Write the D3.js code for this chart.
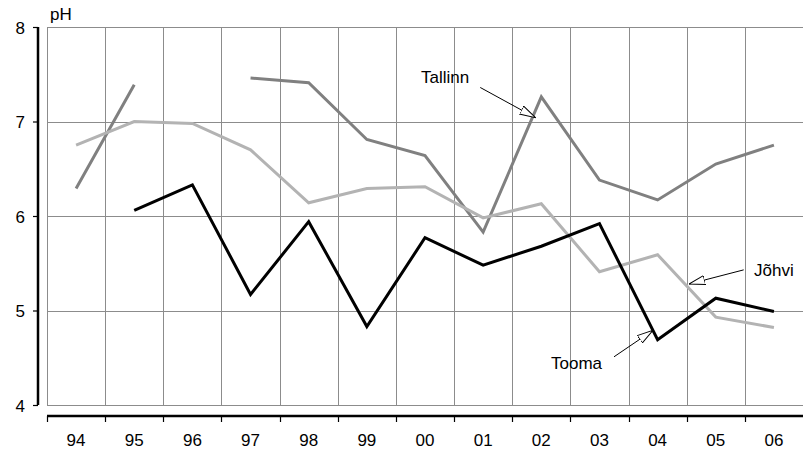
<!DOCTYPE html>
<html>
<head>
<meta charset="utf-8">
<script src="https://cdn.jsdelivr.net/npm/d3@7"></script>
<style>
  body { margin: 0; background: #fff; }
  text { font-family: "Liberation Sans", Arial, sans-serif; font-size: 17px; fill: #000; }
</style>
</head>
<body>
<div id="chart"></div>
<script>
// Data
var years = ["94","95","96","97","98","99","00","01","02","03","04","05","06"];
var yTicks = [4, 5, 6, 7, 8];

var tallinn = [6.29, 7.39, null, 7.46, 7.41, 6.81, 6.64, 5.83, 7.26, 6.38, 6.17, 6.55, 6.75];
var johvi   = [6.75, 7.00, 6.98, 6.70, 6.14, 6.29, 6.31, 5.98, 6.13, 5.41, 5.59, 4.93, 4.82];
var tooma   = [null, 6.06, 6.33, 5.17, 5.94, 4.83, 5.77, 5.48, 5.68, 5.92, 4.69, 5.13, 4.99];

var series = [
	{name: "Tallinn", values: tallinn, color: "#808080"},
	{name: "Jõhvi",   values: johvi,   color: "#b3b3b3"},
	{name: "Tooma",   values: tooma,   color: "#000000"}
];

// labels: arrow start and tip given as (position along the years, pH value)
var notes = [
	{text: "Tallinn", from: [6.95, 7.36], tip: [7.90, 7.04], tx: 421, ty: 83},
	{text: "Jõhvi",   from: [11.48, 5.43], tip: [10.54, 5.28], tx: 754, ty: 276},
	{text: "Tooma",   from: [9.25, 4.51], tip: [9.92, 4.79], tx: 551, ty: 369}
];

var W = 803, H = 450;
var margin = {top: 27, right: 0, bottom: 45, left: 47};

var svg = d3.select("#chart").append("svg")
	.attr("width", W)
	.attr("height", H);

var x = d3.scaleBand()
	.domain(years)
	.range([margin.left, W - margin.right])
	.paddingInner(0).paddingOuter(0);

var y = d3.scaleLinear()
	.domain([4, 8])
	.range([H - margin.bottom, margin.top]);

// fractional index along the years -> px
function xAt(i) { return x.range()[0] + (i + 0.5) * x.bandwidth(); }

// Grid
var grid = svg.append("g").attr("class", "grid")
	.attr("stroke", "#8c8c8c")
	.attr("stroke-width", 1)
	.attr("shape-rendering", "crispEdges");

grid.selectAll(".h").data(yTicks).enter().append("line")
	.attr("x1", margin.left).attr("x2", W)
	.attr("y1", function(d) { return Math.round(y(d)) + 0.5; })
	.attr("y2", function(d) { return Math.round(y(d)) + 0.5; });

grid.selectAll(".v").data(years).enter().append("line")
	.attr("x1", function(d) { return Math.round(x(d)) + 0.5; })
	.attr("x2", function(d) { return Math.round(x(d)) + 0.5; })
	.attr("y1", y(8)).attr("y2", y(4));

// Y axis (offset to the left of the plot)
var yAxis = d3.axisLeft(y)
	.tickValues(yTicks)
	.tickSize(5)
	.tickPadding(8)
	.tickFormat(d3.format("d"));

var gy = svg.append("g")
	.attr("transform", "translate(38,0)")
	.call(yAxis);
gy.select(".domain").attr("d", "M0," + y(8) + "V" + y(4)).attr("stroke-width", 2.5);
gy.selectAll(".tick line").attr("stroke-width", 1.2);
gy.selectAll("text").style("font-size", "17px").attr("dy", "0.36em");

// X axis (offset below the plot)
var xAxis = d3.axisBottom(x)
	.tickSize(0)
	.tickPadding(18);

var gx = svg.append("g")
	.attr("transform", "translate(0,416)")
	.call(xAxis);
gx.select(".domain").attr("d", "M" + margin.left + ",0H" + W).attr("stroke-width", 2.5);
gx.selectAll("text").style("font-size", "17px");

gx.selectAll(".bnd").data(years).enter().append("line")
	.attr("x1", function(d) { return Math.round(x(d)) + 0.5; })
	.attr("x2", function(d) { return Math.round(x(d)) + 0.5; })
	.attr("y1", 0).attr("y2", 6)
	.attr("stroke", "#000").attr("stroke-width", 1.2);

// pH label
svg.append("text")
	.attr("x", 50).attr("y", 20)
	.text("pH");

// Lines
var line = d3.line()
	.defined(function(d) { return d != null; })
	.x(function(d, i) { return xAt(i); })
	.y(function(d) { return y(d); });

svg.selectAll(".series").data(series).enter().append("path")
	.attr("class", "series")
	.attr("fill", "none")
	.attr("stroke", function(d) { return d.color; })
	.attr("stroke-width", 3)
	.attr("stroke-linejoin", "miter")
	.attr("d", function(d) { return line(d.values); });

// Arrow marker (open triangle)
svg.append("defs").append("marker")
	.attr("id", "arrow")
	.attr("viewBox", "0 0 16 10")
	.attr("refX", 16).attr("refY", 5)
	.attr("markerWidth", 16).attr("markerHeight", 10)
	.attr("markerUnits", "userSpaceOnUse")
	.attr("orient", "auto")
	.append("path")
	.attr("d", "M0,0.5L16,5L0,9.5Z")
	.attr("fill", "#fff")
	.attr("stroke", "#000")
	.attr("stroke-width", 1);

var ann = svg.selectAll(".note").data(notes).enter().append("g");

ann.append("line")
	.attr("x1", function(d) { return xAt(d.from[0]); })
	.attr("y1", function(d) { return y(d.from[1]); })
	.attr("x2", function(d) { return xAt(d.tip[0]); })
	.attr("y2", function(d) { return y(d.tip[1]); })
	.attr("stroke", "#000")
	.attr("stroke-width", 1)
	.attr("marker-end", "url(#arrow)");

ann.append("text")
	.attr("x", function(d) { return d.tx; })
	.attr("y", function(d) { return d.ty; })
	.text(function(d) { return d.text; });
</script>
</body>
</html>
